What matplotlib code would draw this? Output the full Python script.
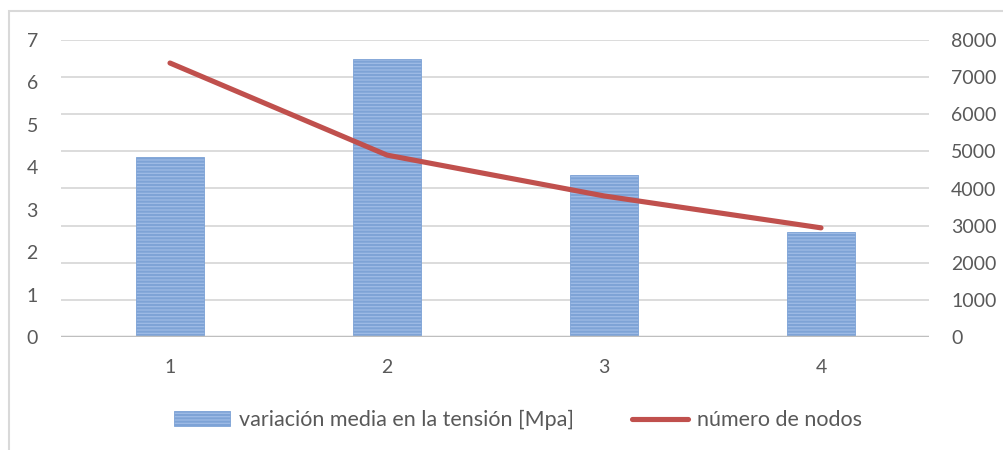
import matplotlib.pyplot as plt
from matplotlib.patches import Rectangle

plt.rcParams['font.family'] = ['Lato', 'DejaVu Sans']
plt.rcParams['hatch.color'] = '#4877bc'
plt.rcParams['hatch.linewidth'] = 1.5

categorias = ['1', '2', '3', '4']
variacion_tension = [4.24, 6.55, 3.82, 2.47]
numero_nodos = [7380, 4900, 3800, 2940]

TEXT_COLOR = '#595959'
GRID_COLOR = '#d9d9d9'

fig = plt.figure(figsize=(10.04, 4.5), dpi=100)
# light frame around the chart area
fig.patches.append(Rectangle((9 / 1004, -0.1), 1.2, 1 - 11 / 450 + 0.1,
                             transform=fig.transFigure, fill=False,
                             edgecolor='#d9d9d9', linewidth=1.5))

ax1 = fig.add_axes([61.5 / 1004, 113 / 450, 868 / 1004, 297 / 450])
ax2 = ax1.twinx()
ax2.patch.set_visible(False)

x = range(len(categorias))
ax1.bar(x, variacion_tension, width=0.31, color='#9fbce6', hatch='-----',
        edgecolor='#7ea3d6', linewidth=0.6, zorder=3,
        label='variación media en la tensión [Mpa]')
ax1.set_xlim(-0.5, 3.5)
ax1.set_ylim(0, 7)
ax1.set_yticks(range(0, 8))
ax1.set_xticks(list(x))
ax1.set_xticklabels(categorias)

ax2.plot(list(x), numero_nodos, color='#c0504d', linewidth=3.7,
         solid_capstyle='round', label='número de nodos', zorder=4)
ax2.set_ylim(0, 8000)
ax2.set_yticks(range(0, 8001, 1000))

for ax in (ax1, ax2):
    for side in ('top', 'left', 'right', 'bottom'):
        ax.spines[side].set_visible(False)
    ax.tick_params(length=0, labelsize=14, labelcolor=TEXT_COLOR)

# gridlines follow the right-hand scale, drawn under the bars
for v in range(1000, 8001, 1000):
    ax1.axhline(v * 7 / 8000, color=GRID_COLOR, linewidth=1.3, zorder=1)
ax1.axhline(0, color='#bfbfbf', linewidth=2.5, zorder=5)

ax1.tick_params(axis='y', pad=17)
ax2.tick_params(axis='y', pad=15.5)
ax1.tick_params(axis='x', pad=16)

h1, l1 = ax1.get_legend_handles_labels()
h2, l2 = ax2.get_legend_handles_labels()
fig.legend(h1 + h2, l1 + l2, loc='center', bbox_to_anchor=(518 / 1004, 1 - 420 / 450),
           ncol=2, frameon=False, fontsize=15.5, labelcolor=TEXT_COLOR,
           handlelength=2.6, handletextpad=0.4, columnspacing=2.7)

fig.savefig('out.png', dpi=100)
